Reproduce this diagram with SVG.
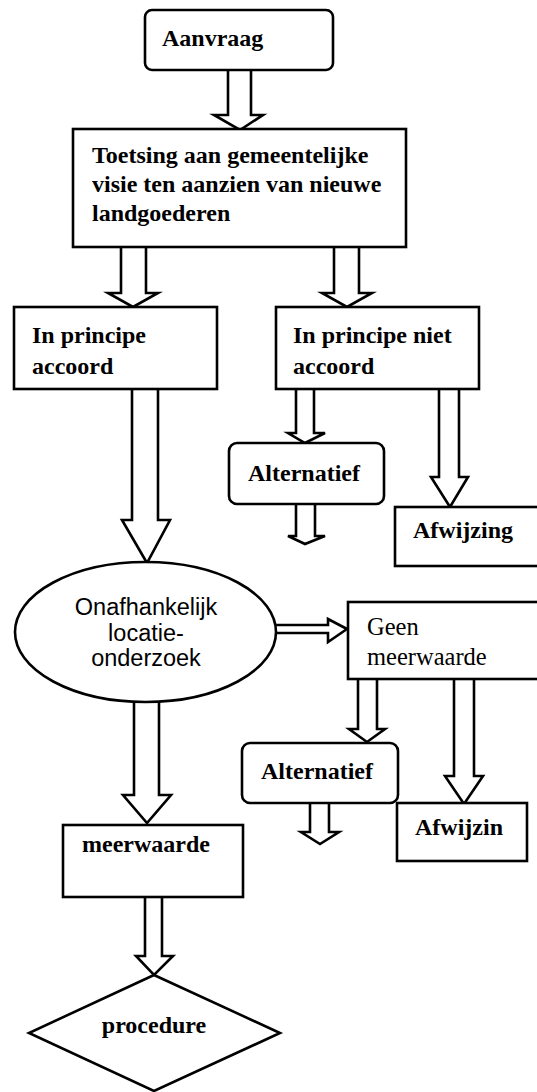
<svg xmlns="http://www.w3.org/2000/svg" width="537" height="1092" viewBox="0 0 537 1092">
<style>
.box{fill:#fff;stroke:#000;stroke-width:2.6}
.arr{fill:#fff;stroke:#000;stroke-width:2.6;stroke-linejoin:miter}
.tb{font-family:'Liberation Serif','DejaVu Serif','Times New Roman',serif;font-weight:bold;font-size:24px;fill:#000}
.tr{font-family:'Liberation Serif','DejaVu Serif','Times New Roman',serif;font-weight:normal;font-size:24.5px;fill:#000}
.ts{font-family:'Liberation Sans',Arial,sans-serif;font-size:23.5px;fill:#000}
</style>
<rect width="537" height="1092" fill="#fff"/>
<g id="connectors">
<path class="arr" d="M228,70 V115 H214 L240,130 L263,115 H251 V70"/>
<path class="arr" d="M121,247 V293 H108 L133,307 L158,293 H146 V247"/>
<path class="arr" d="M334,247 V293 H322 L347,307 L372,293 H359 V247"/>
<path class="arr" d="M296,389 V433 H288 L305,443 L325,433 H314 V389"/>
<path class="arr" d="M439,389 V477 H431 L450,507 L468,477 H459 V389"/>
<path class="arr" d="M296,504 V536 H288 L305,544 L325,536 H315 V504"/>
<path class="arr" d="M132,389 V520 H122 L147,563 L170,520 H158 V389"/>
<path class="arr" d="M275,625 H328 V619 L347,629 L328,642 V633 H275"/>
<path class="arr" d="M134,702 V795 H123 L147,823 L171,795 H159 V702"/>
<path class="arr" d="M358,679 V729 H349 L367,742 L385,729 H377 V679"/>
<path class="arr" d="M454,679 V776 H445 L464,804 L483,776 H474 V679"/>
<path class="arr" d="M310,803 V832 H301 L320,844 L339,832 H329 V803"/>
<path class="arr" d="M145,897 V956 H136 L154,975 L173,956 H162 V897"/>
</g>
<g id="aanvraag">
<rect class="box" x="145" y="10" width="188" height="60" rx="7"/>
<text class="tb" font-family="Liberation Serif, serif" x="162" y="46" font-size="22">Aanvraag</text>
</g>
<g id="toetsing">
<rect class="box" x="73" y="129" width="333" height="118"/>
<text class="tb" font-family="Liberation Serif, serif" x="92" y="163">Toetsing aan gemeentelijke</text>
<text class="tb" font-family="Liberation Serif, serif" x="92" y="192">visie ten aanzien van nieuwe</text>
<text class="tb" font-family="Liberation Serif, serif" x="92" y="221">landgoederen</text>
</g>
<g id="accoord">
<rect class="box" x="14" y="307" width="203" height="82"/>
<text class="tb" font-family="Liberation Serif, serif" x="32" y="343">In principe</text>
<text class="tb" font-family="Liberation Serif, serif" x="32" y="374">accoord</text>
</g>
<g id="niet-accoord">
<rect class="box" x="276" y="307" width="203" height="82"/>
<text class="tb" font-family="Liberation Serif, serif" x="293" y="343">In principe niet</text>
<text class="tb" font-family="Liberation Serif, serif" x="293" y="374">accoord</text>
</g>
<g id="alternatief1">
<rect class="box" x="229" y="443" width="155" height="61" rx="8"/>
<text class="tb" font-family="Liberation Serif, serif" x="304" y="481" text-anchor="middle">Alternatief</text>
</g>
<g id="afwijzing1">
<rect class="box" x="395" y="507" width="150" height="59"/>
<text class="tb" font-family="Liberation Serif, serif" x="413" y="538" font-size="25">Afwijzing</text>
</g>
<g id="onderzoek">
<ellipse class="box" cx="145.5" cy="632" rx="130.5" ry="70"/>
<text class="ts" x="146" y="615" text-anchor="middle">Onafhankelijk</text>
<text class="ts" x="146" y="641" text-anchor="middle">locatie-</text>
<text class="ts" x="146" y="666" text-anchor="middle">onderzoek</text>
</g>
<g id="geen-meerwaarde">
<rect class="box" x="348" y="602" width="197" height="77"/>
<text class="tr" font-family="Liberation Serif, serif" x="367" y="635">Geen</text>
<text class="tr" font-family="Liberation Serif, serif" x="367" y="665">meerwaarde</text>
</g>
<g id="alternatief2">
<rect class="box" x="242" y="743" width="156" height="60" rx="8"/>
<text class="tb" font-family="Liberation Serif, serif" x="317" y="779" text-anchor="middle">Alternatief</text>
</g>
<g id="afwijzing2">
<rect class="box" x="397" y="803" width="130" height="58"/>
<text class="tb" font-family="Liberation Serif, serif" x="415" y="835" font-size="25">Afwijzin</text>
</g>
<g id="meerwaarde">
<rect class="box" x="63" y="825" width="180" height="72"/>
<text class="tb" font-family="Liberation Serif, serif" x="82" y="852" font-size="23.5">meerwaarde</text>
</g>
<g id="procedure">
<polygon class="box" points="154,975 280,1033 154,1091 29,1033"/>
<text class="tb" font-family="Liberation Serif, serif" x="154" y="1033" text-anchor="middle" font-size="23">procedure</text>
</g>
</svg>
